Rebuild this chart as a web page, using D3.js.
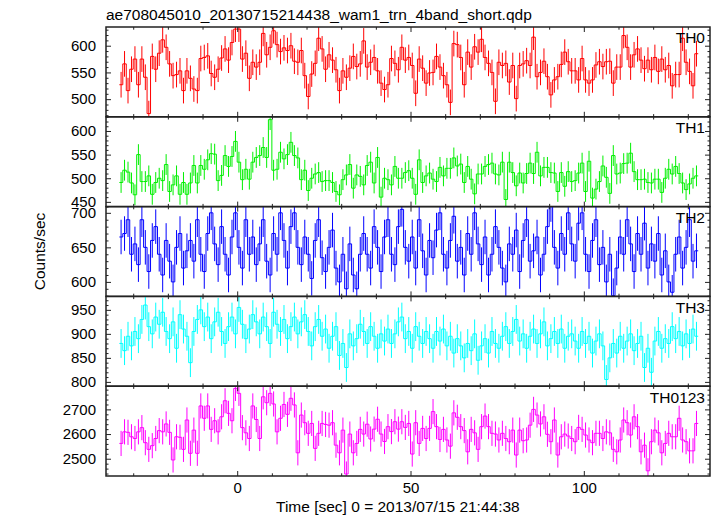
<!DOCTYPE html>
<html><head><meta charset="utf-8">
<script src="https://cdn.jsdelivr.net/npm/d3@7"></script>
<style>body{margin:0;background:#fff;} svg{display:block;font-family:"Liberation Sans",Arial,Helvetica,sans-serif;}</style>
</head><body><svg id="c" width="717" height="516"></svg>
<script>
const titleText = "ae708045010_20130715214438_wam1_trn_4band_short.qdp";
const xLabelText = "Time [sec] 0 = 2013/07/15 21:44:38";
const yLabelText = "Counts/sec";
const binStart = -34, binWidth = 1;
const panelNames = ["TH0", "TH1", "TH2", "TH3", "TH0123"];
const panelColors = ["#ff0000", "#00f000", "#0000ff", "#00ffff", "#ff00ff"];
const panelErrors = [24, 22, 25, 30, 51];
const yDomains = [[467, 635], [440, 630], [579, 709], [791, 978], [2430, 2794]];
const yMajorTicks = [[500, 550, 600], [450, 500, 550, 600], [600, 650, 700], [800, 850, 900, 950], [2500, 2600, 2700]];
const yMinorSteps = [10, 10, 10, 10, 20];
const xMajorTicks = [0, 50, 100];
const xDomain = [-37.85, 136.4];

const th0 = [527,566,516,556,575,527,575,541,473,580,556,586,611,597,566,544,546,553,516,553,
539,519,516,576,578,581,548,541,556,577,594,573,606,631,631,575,586,539,569,560,
569,623,583,597,628,602,589,596,591,600,571,569,591,544,505,547,567,614,594,556,
583,573,555,516,553,541,558,580,561,566,609,560,569,578,553,530,518,527,576,567,
555,597,573,578,563,511,575,558,530,549,550,580,560,544,527,494,604,602,578,527,
588,560,598,588,612,578,567,550,496,569,563,567,532,563,501,563,566,572,563,616,
542,550,571,542,508,536,542,565,588,570,553,553,536,576,536,530,536,564,570,561,
570,571,530,560,560,619,597,560,583,594,573,557,573,555,578,552,575,555,563,525,
546,546,614,569,552,525,585];
const th1 = [491,517,513,490,465,550,493,493,505,466,491,500,495,529,472,486,505,466,491,466,
490,527,490,527,519,539,552,551,495,506,548,525,546,578,534,497,519,498,534,544,
548,565,544,624,517,519,555,541,550,576,548,543,497,517,474,500,509,512,493,495,
495,491,472,465,497,507,529,479,507,504,486,527,534,490,544,460,500,497,486,525,
500,500,512,516,500,466,539,491,505,511,498,493,523,505,521,521,543,526,530,491,
525,498,467,509,509,525,529,532,509,507,534,455,534,512,484,511,490,510,532,510,
555,505,523,523,512,511,472,512,483,514,493,495,511,532,472,536,458,477,493,526,
502,468,548,509,511,531,532,553,514,497,497,498,491,490,498,498,470,500,519,509,
525,510,490,476,488,500,505];
const th2 = [665,670,690,640,655,625,690,650,615,660,
680,640,610,660,630,600,650,670,620,645,
660,630,690,640,615,670,700,655,625,680,
640,610,665,700,650,620,690,640,665,625,
655,690,630,610,670,640,700,660,620,680,
700,650,625,665,640,605,660,690,635,615,
650,675,620,600,640,590,655,610,590,640,
670,640,620,680,650,615,665,690,640,625,
680,705,650,630,665,620,690,645,610,660,
635,675,700,640,620,660,695,630,650,610,
670,640,700,655,625,665,610,640,680,650,
620,600,655,640,675,615,660,690,630,645,
665,610,640,680,712,650,620,670,640,700,
655,630,685,700,640,615,660,690,625,650,
600,640,580,620,665,640,690,655,615,670,
640,685,620,655,630,670,610,645,600,585,
640,665,620,650,690,630,645];
const th3 = [880,865,895,875,905,890,930,960,915,900,
935,920,945,905,890,925,870,940,910,895,
840,905,930,950,915,935,890,925,945,905,
880,915,935,900,955,920,890,910,940,925,
900,935,915,880,945,920,905,930,890,915,
935,900,925,940,905,875,915,930,895,910,
870,895,915,855,880,830,900,875,890,920,
905,880,915,895,870,900,885,910,880,900,
925,935,890,905,870,915,895,880,905,890,
870,905,885,910,875,895,860,890,875,850,
880,865,900,845,875,890,860,905,880,870,
895,915,880,905,930,885,900,870,895,910,
880,900,925,875,890,905,880,910,870,895,
900,885,870,905,880,895,860,885,900,875,
805,850,880,860,895,870,885,900,865,880,
895,830,870,820,885,905,870,890,880,915,
890,905,875,900,880,910,895];
const th0123 = [2562,2609,2607,2589,2582,2609,2626,2565,2538,2553,
2582,2614,2609,2641,2607,2495,2589,2587,2538,2657,
2522,2616,2522,2714,2664,2714,2619,2654,2609,2670,
2735,2684,2654,2785,2765,2626,2605,2582,2714,2659,
2582,2751,2727,2765,2722,2609,2664,2720,2680,2745,
2718,2524,2677,2646,2603,2643,2542,2603,2643,2639,
2636,2646,2555,2524,2616,2438,2600,2524,2562,2619,
2600,2640,2580,2620,2660,2600,2570,2630,2610,2650,
2620,2650,2627,2643,2519,2646,2562,2623,2582,2623,
2691,2630,2578,2619,2576,2551,2686,2668,2630,2614,
2528,2619,2605,2538,2630,2673,2630,2603,2600,2576,
2603,2582,2569,2616,2515,2616,2573,2576,2636,2700,
2677,2641,2670,2599,2569,2657,2515,2589,2600,2592,
2582,2569,2627,2619,2596,2576,2565,2603,2603,2582,
2609,2605,2538,2528,2576,2657,2646,2596,2670,2630,
2528,2555,2451,2569,2616,2605,2524,2562,2603,2589,
2589,2664,2576,2569,2532,2532,2643];
const seriesValues = [th0, th1, th2, th3, th0123];

const W = 717, H = 516;
const plotLeft = 106, plotRight = 710, plotTop = 27, plotBottom = 476;
const nP = panelNames.length;
const pH = (plotBottom - plotTop) / nP;
const svg = d3.select("#c");
const x = d3.scaleLinear().domain(xDomain).range([plotLeft, plotRight]);
const frameColor = "#222";

svg.append("text").attr("x", plotLeft).attr("y", 20).attr("font-size", 15.5).attr("fill", "#000").text(titleText);

panelNames.forEach((name, p) => {
  const top = plotTop + p * pH, bot = top + pH;
  const y = d3.scaleLinear().domain(yDomains[p]).range([bot, top]);
  const vals = seriesValues[p];
  const col = panelColors[p];
  const err = panelErrors[p];
  const g = svg.append("g");
  const clipId = "clip" + p;
  svg.append("clipPath").attr("id", clipId).append("rect")
    .attr("x", plotLeft).attr("y", top).attr("width", plotRight - plotLeft).attr("height", pH);
  const data = vals.map((v, i) => ({t0: binStart + i * binWidth, v}));
  const dg = g.append("g").attr("clip-path", `url(#${clipId})`);
  dg.selectAll("line.err").data(data).join("line").attr("class", "err")
    .attr("x1", d => x(d.t0 + binWidth / 2)).attr("x2", d => x(d.t0 + binWidth / 2))
    .attr("y1", d => y(d.v - err)).attr("y2", d => y(d.v + err))
    .attr("stroke", col).attr("stroke-width", 1);
  if (data.length) {
    const pts = data.map(d => [d.t0, d.v]);
    pts.push([data[data.length - 1].t0 + binWidth, data[data.length - 1].v]);
    const line = d3.line().x(d => x(d[0])).y(d => y(d[1])).curve(d3.curveStepAfter);
    dg.append("path").attr("d", line(pts)).attr("fill", "none").attr("stroke", col).attr("stroke-width", 1);
  }
  const [d0, d1] = yDomains[p];
  const minors = d3.range(Math.ceil(d0 / yMinorSteps[p]) * yMinorSteps[p], d1 + 0.001, yMinorSteps[p]).filter(v => !yMajorTicks[p].includes(v));
  const axL = g.append("g").attr("transform", `translate(${plotLeft},0)`)
    .call(d3.axisLeft(y).tickValues(yMajorTicks[p]).tickSize(-5).tickPadding(10).tickFormat(d3.format("d")));
  const axLm = g.append("g").attr("transform", `translate(${plotLeft},0)`)
    .call(d3.axisLeft(y).tickValues(minors).tickSize(-2.5).tickFormat(""));
  const axR = g.append("g").attr("transform", `translate(${plotRight},0)`)
    .call(d3.axisRight(y).tickValues(yMajorTicks[p]).tickSize(-5).tickFormat(""));
  const axRm = g.append("g").attr("transform", `translate(${plotRight},0)`)
    .call(d3.axisRight(y).tickValues(minors).tickSize(-2.5).tickFormat(""));
  const xMinors = d3.range(-30, 136, 10).filter(v => !xMajorTicks.includes(v));
  const axB = g.append("g").attr("transform", `translate(0,${bot})`)
    .call(d3.axisBottom(x).tickValues(xMajorTicks).tickSize(-5).tickPadding(6.5).tickFormat(p === nP - 1 ? d3.format("d") : ""));
  const axBm = g.append("g").attr("transform", `translate(0,${bot})`)
    .call(d3.axisBottom(x).tickValues(xMinors).tickSize(-2.7).tickFormat(""));
  const axT = g.append("g").attr("transform", `translate(0,${top})`)
    .call(d3.axisTop(x).tickValues(xMajorTicks).tickSize(-5).tickFormat(""));
  const axTm = g.append("g").attr("transform", `translate(0,${top})`)
    .call(d3.axisTop(x).tickValues(xMinors).tickSize(-2.7).tickFormat(""));
  [axL, axLm, axR, axRm, axB, axBm, axT, axTm].forEach(a => {
    a.select(".domain").remove();
    a.selectAll("line").attr("stroke", frameColor).attr("stroke-width", 1);
    a.selectAll("text").attr("font-size", 15).attr("fill", "#000").attr("font-family", "Liberation Sans, Arial, sans-serif");
  });
  g.append("rect").attr("x", plotLeft).attr("y", top).attr("width", plotRight - plotLeft).attr("height", pH)
    .attr("fill", "none").attr("stroke", frameColor).attr("stroke-width", 1.5);
  g.append("text").attr("x", 705).attr("y", top + 16.3).attr("text-anchor", "end")
    .attr("font-size", 15.5).attr("fill", "#000").text(name);
});

svg.append("text").attr("x", 276).attr("y", 511.5).attr("font-size", 15.5).attr("fill", "#000").text(xLabelText);
svg.append("text").attr("transform", `translate(45,${(plotTop + plotBottom) / 2}) rotate(-90)`)
  .attr("text-anchor", "middle").attr("font-size", 15.5).attr("fill", "#000").text(yLabelText);
</script></body></html>
